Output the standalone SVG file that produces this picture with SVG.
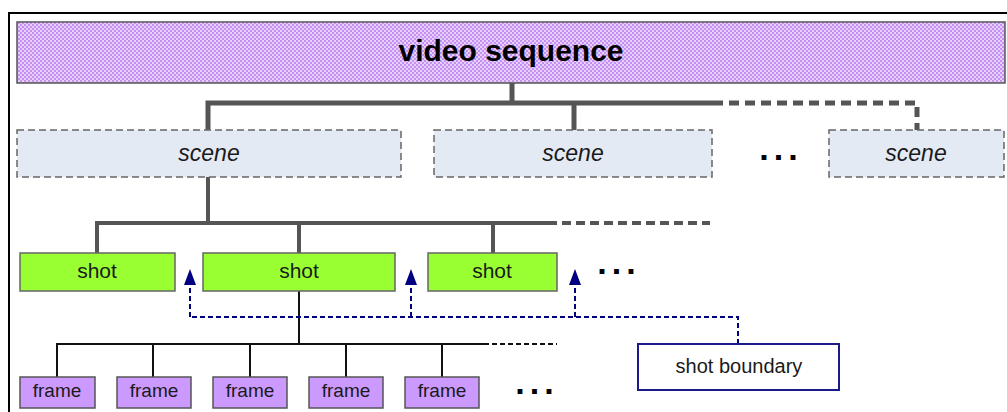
<svg xmlns="http://www.w3.org/2000/svg" width="1007" height="412" viewBox="0 0 1007 412">
  <defs>
    <pattern id="checker" width="4" height="4" patternUnits="userSpaceOnUse">
      <rect width="4" height="4" fill="#e6d0fb"/>
      <rect width="2" height="2" fill="#c690f2"/>
      <rect x="2" y="2" width="2" height="2" fill="#c690f2"/>
    </pattern>
    <!-- upward arrowhead, tip at the origin -->
    <path id="head" d="M0 0 L6 16 L-6 16 Z" fill="#000080"/>
    <style>
      text { font-family: "Liberation Sans", Arial, sans-serif; text-anchor: middle; fill: #1a1a1a; }
      .title { font-size: 30px; font-weight: bold; fill: #000; }
      .scene rect { fill: #e4eaf4; stroke: #666; stroke-width: 1.5; stroke-dasharray: 7 4; }
      .scene text { font-size: 23px; font-style: italic; }
      .shot rect { fill: #99ff33; stroke: #666; stroke-width: 1.5; }
      .shot text { font-size: 21px; }
      .frame rect { fill: #cc99ff; stroke: #555; stroke-width: 1.5; }
      .frame text { font-size: 19px; }
      .dots { font-size: 34px; font-weight: bold; fill: #000; letter-spacing: 5px; }
      .thick { stroke: #555; stroke-width: 5; fill: none; }
      .thick-dash { stroke: #555; stroke-width: 5; fill: none; stroke-dasharray: 10 6; }
      .mid { stroke: #555; stroke-width: 4; fill: none; }
      .mid-dash { stroke: #555; stroke-width: 4; fill: none; stroke-dasharray: 9 5; }
      .thin { stroke: #111; stroke-width: 2; fill: none; }
      .thin-dash { stroke: #111; stroke-width: 2; fill: none; stroke-dasharray: 5 3; }
      .boundary { stroke: #000080; stroke-width: 2; fill: none; stroke-dasharray: 5 3; }
    </style>
  </defs>

  <rect width="1007" height="412" fill="#fff"/>
  <!-- outer frame -->
  <rect x="9" y="13" width="1010" height="420" fill="none" stroke="#000" stroke-width="2"/>

  <!-- connectors -->
  <g id="connectors">
    <!-- sequence to scenes -->
    <path class="thick" d="M512 83 V103 M208 130 V103 H713 M574 103 V130"/>
    <path class="thick-dash" d="M713 103 H917 V130"/>
    <!-- scene to shots -->
    <path class="mid" d="M208 177 V223 M97 253 V223 H548 M299 223 V253 M493 223 V253"/>
    <path class="mid-dash" d="M548 223 H710"/>
    <!-- shot to frames -->
    <path class="thin" d="M299 291 V344 M57 377 V344 H484 M153 344 V377 M250 344 V377 M346 344 V377 M442 344 V377"/>
    <path class="thin-dash" d="M484 344 H557"/>
    <!-- shot boundary markers -->
    <path class="boundary" d="M738 344 V317 H190 M190 317 V284 M411 317 V284 M575 317 V284"/>
    <use href="#head" x="190" y="269"/>
    <use href="#head" x="411" y="269"/>
    <use href="#head" x="575" y="269"/>
  </g>

  <!-- top level -->
  <g id="video-sequence">
    <rect x="17" y="22" width="988" height="61" fill="url(#checker)" stroke="#555" stroke-width="1.5"/>
    <text class="title" x="511" y="61">video sequence</text>
  </g>

  <!-- scenes -->
  <g id="scene-1" class="scene">
    <rect x="17" y="130" width="384" height="47"/>
    <text x="209" y="161">scene</text>
  </g>
  <g id="scene-2" class="scene">
    <rect x="434" y="130" width="278" height="47"/>
    <text x="573" y="161">scene</text>
  </g>
  <g id="scene-3" class="scene">
    <rect x="829" y="130" width="175" height="47"/>
    <text x="916" y="161">scene</text>
  </g>
  <text class="dots" x="781" y="160">...</text>

  <!-- shots -->
  <g id="shot-1" class="shot">
    <rect x="20" y="253" width="155" height="38"/>
    <text x="97" y="278">shot</text>
  </g>
  <g id="shot-2" class="shot">
    <rect x="203" y="253" width="192" height="38"/>
    <text x="299" y="278">shot</text>
  </g>
  <g id="shot-3" class="shot">
    <rect x="428" y="253" width="129" height="38"/>
    <text x="492" y="278">shot</text>
  </g>
  <text class="dots" x="619" y="274">...</text>

  <!-- frames -->
  <g id="frame-1" class="frame">
    <rect x="20" y="377" width="75" height="31"/>
    <text x="57" y="397">frame</text>
  </g>
  <g id="frame-2" class="frame">
    <rect x="117" y="377" width="74" height="31"/>
    <text x="154" y="397">frame</text>
  </g>
  <g id="frame-3" class="frame">
    <rect x="213" y="377" width="74" height="31"/>
    <text x="250" y="397">frame</text>
  </g>
  <g id="frame-4" class="frame">
    <rect x="309" y="377" width="74" height="31"/>
    <text x="346" y="397">frame</text>
  </g>
  <g id="frame-5" class="frame">
    <rect x="405" y="377" width="74" height="31"/>
    <text x="442" y="397">frame</text>
  </g>
  <text class="dots" x="537" y="394">...</text>

  <!-- legend -->
  <g id="shot-boundary">
    <rect x="638" y="344" width="201" height="46" fill="#fff" stroke="#1a1a8c" stroke-width="2"/>
    <text x="739" y="373" style="font-size:20px">shot boundary</text>
  </g>
</svg>
